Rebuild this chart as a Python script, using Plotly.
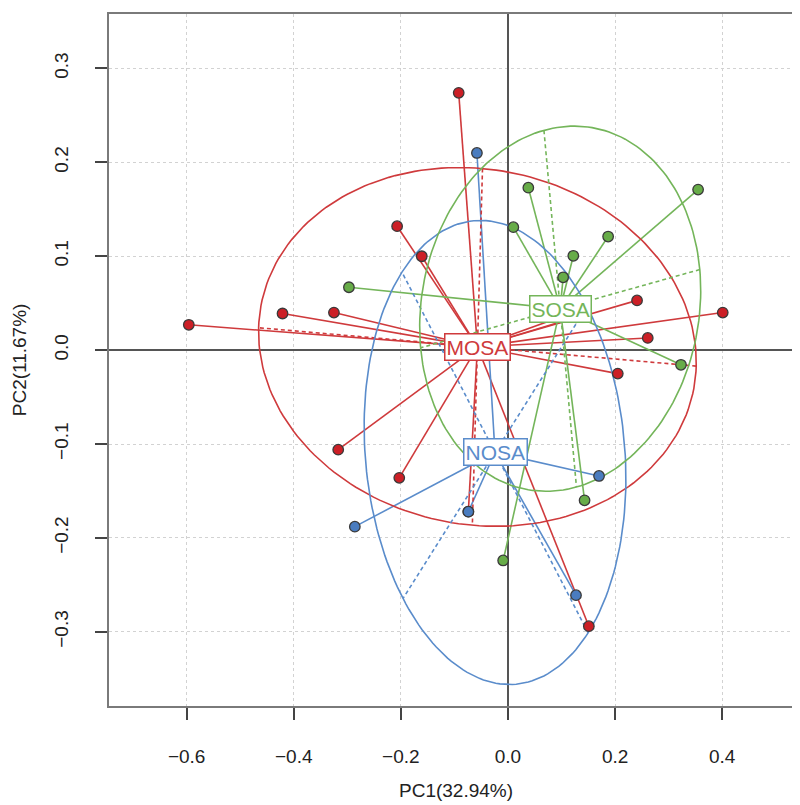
import numpy as np
import plotly.graph_objects as go

# ---- data ----
groups = ["MOSA", "NOSA", "SOSA"]
mosa_x = [-0.596, -0.421, -0.325, -0.207, -0.161, -0.092, 0.241, 0.401, 0.261, 0.205, -0.317, -0.203, 0.151, 0.097, 0.127, -0.074]
mosa_y = [0.027, 0.039, 0.040, 0.132, 0.100, 0.274, 0.053, 0.040, 0.013, -0.025, -0.106, -0.136, -0.294, 0.035, 0.035, -0.172]
nosa_x = [-0.058, -0.286, 0.170, -0.074, 0.127]
nosa_y = [0.210, -0.188, -0.134, -0.172, -0.261]
sosa_x = [-0.297, 0.038, 0.355, 0.010, 0.187, 0.122, 0.103, 0.323, 0.143, -0.009]
sosa_y = [0.067, 0.173, 0.171, 0.131, 0.121, 0.1005, 0.0776, -0.0156, -0.160, -0.224]

x_ticks = [-0.6, -0.4, -0.2, 0.0, 0.2, 0.4]
y_ticks = [-0.3, -0.2, -0.1, 0.0, 0.1, 0.2, 0.3]
x_title = "PC1(32.94%)"
y_title = "PC2(11.67%)"

data = {"MOSA": (mosa_x, mosa_y), "NOSA": (nosa_x, nosa_y), "SOSA": (sosa_x, sosa_y)}
line_col = {"MOSA": "#cf3a3c", "NOSA": "#5a8ccb", "SOSA": "#74b55a"}
fill_col = {"MOSA": "#cc1f26", "NOSA": "#4a7cbf", "SOSA": "#67ac48"}
coeff = 1.5

fig = go.Figure()

stats = {}
for g in groups:
    x = np.array(data[g][0]); y = np.array(data[g][1])
    mx, my = x.mean(), y.mean()
    cov = np.cov(np.vstack([x, y]), bias=True)
    vals, vecs = np.linalg.eigh(cov)
    stats[g] = (mx, my, vals, vecs)

# stars
for g in groups:
    x, y = data[g]
    mx, my, _, _ = stats[g]
    sx, sy = [], []
    for xi, yi in zip(x, y):
        sx += [mx, xi, None]
        sy += [my, yi, None]
    fig.add_trace(go.Scatter(x=sx, y=sy, mode="lines", line=dict(color=line_col[g], width=1.6),
                             hoverinfo="skip", showlegend=False))

# ellipses + axes
t = np.linspace(0, 2 * np.pi, 201)
for g in groups:
    mx, my, vals, vecs = stats[g]
    a = coeff * np.sqrt(max(vals[1], 0)); b = coeff * np.sqrt(max(vals[0], 0))
    v1 = vecs[:, 1]; v2 = vecs[:, 0]
    ex = mx + a * np.cos(t) * v1[0] + b * np.sin(t) * v2[0]
    ey = my + a * np.cos(t) * v1[1] + b * np.sin(t) * v2[1]
    fig.add_trace(go.Scatter(x=ex, y=ey, mode="lines", line=dict(color=line_col[g], width=1.6),
                             hoverinfo="skip", showlegend=False))
    axx = [mx - a * v1[0], mx + a * v1[0], None, mx - b * v2[0], mx + b * v2[0]]
    axy = [my - a * v1[1], my + a * v1[1], None, my - b * v2[1], my + b * v2[1]]
    fig.add_trace(go.Scatter(x=axx, y=axy, mode="lines",
                             line=dict(color=line_col[g], width=1.6, dash="4px,3px"),
                             hoverinfo="skip", showlegend=False))

# points
for g in groups:
    x, y = data[g]
    fig.add_trace(go.Scatter(x=x, y=y, mode="markers", name=g,
                             marker=dict(size=10.5, color=fill_col[g], line=dict(color="#3a3a3a", width=1.3)),
                             showlegend=False))

# group labels
annotations = []
for g in groups:
    mx, my, _, _ = stats[g]
    annotations.append(dict(x=mx, y=my, xref="x", yref="y", text=g, showarrow=False,
                            font=dict(family="Liberation Sans", size=21, color=line_col[g]),
                            bgcolor="white", bordercolor=line_col[g], borderwidth=1.5, borderpad=1))

annotations.append(dict(x=0.5, y=-0.1225, xref="paper", yref="paper", text=x_title, showarrow=False,
                        xanchor="center", yanchor="middle",
                        font=dict(family="Liberation Sans", size=19, color="#222")))
annotations.append(dict(x=-0.1295, y=0.5, xref="paper", yref="paper", text=y_title, showarrow=False,
                        textangle=-90, xanchor="center", yanchor="middle",
                        font=dict(family="Liberation Sans", size=19, color="#222")))

axis_common = dict(showline=True, mirror=True, linecolor="#7a7a7a", linewidth=1.5,
                   ticks="outside", ticklen=12, tickwidth=1.5, tickcolor="#444",
                   showgrid=True, gridcolor="#d2d2d2", griddash="dot", gridwidth=1,
                   zeroline=True, zerolinecolor="#555555", zerolinewidth=1.5,
                   tickfont=dict(family="Liberation Sans", size=19, color="#222"))

fmt = lambda v: ("−" if v < 0 else "") + f"{abs(v):.1f}"

fig.update_layout(
    width=800, height=805,
    margin=dict(l=101, r=4, t=4, b=107),
    paper_bgcolor="white", plot_bgcolor="white",
    annotations=annotations,
    xaxis=dict(range=[-0.745, 0.549], tickvals=x_ticks, ticktext=[fmt(v) for v in x_ticks],
               ticklabelstandoff=20, **axis_common),
    yaxis=dict(range=[-0.379, 0.358], tickvals=y_ticks, ticktext=[fmt(v) for v in y_ticks],
               tickangle=-90, ticklabelstandoff=20, **axis_common),
)

fig.write_html("out.html")
